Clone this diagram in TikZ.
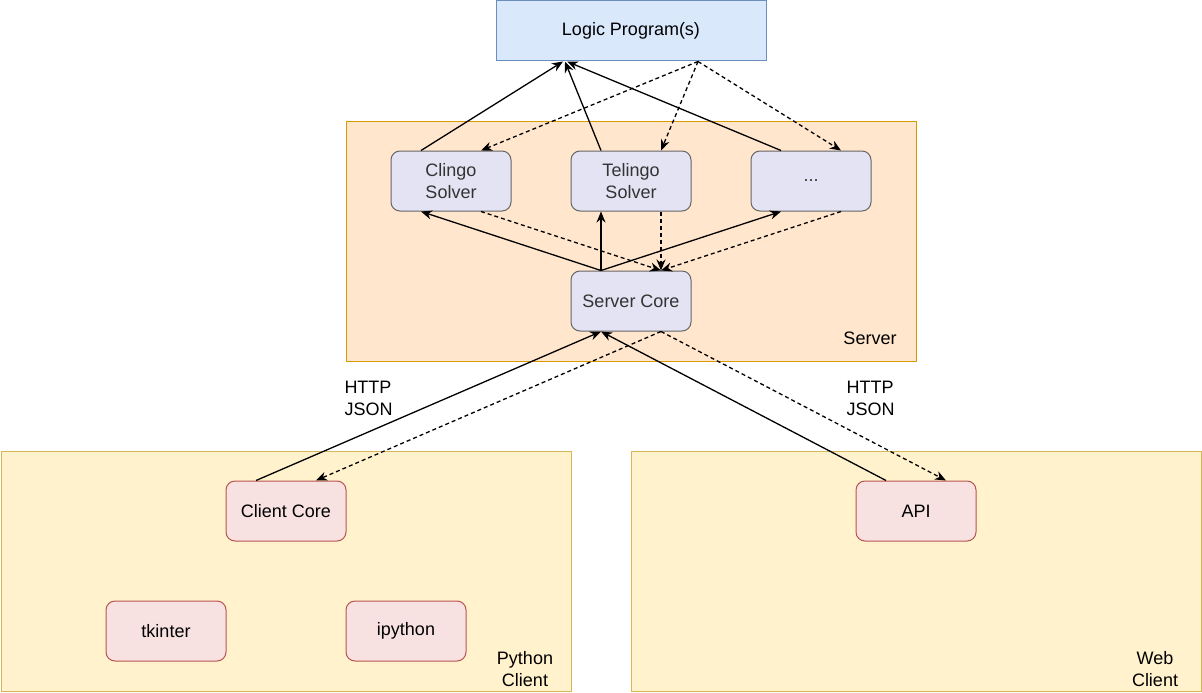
\documentclass[tikz,border=0pt]{standalone}
\usepackage{fontspec}
\setmainfont{Liberation Sans}
\usepackage{tikz}
\usetikzlibrary{positioning,arrows.meta}
\definecolor{lpfill}{HTML}{DAE8FC}
\definecolor{lpdraw}{HTML}{6C8EBF}
\definecolor{srvfill}{HTML}{FFE6CC}
\definecolor{srvdraw}{HTML}{D79B00}
\definecolor{solverfill}{HTML}{E3E3F3}
\definecolor{solverdraw}{HTML}{666666}
\definecolor{solvertext}{HTML}{333333}
\definecolor{cltfill}{HTML}{FFF2CC}
\definecolor{cltdraw}{HTML}{D6B656}
\definecolor{compfill}{HTML}{F8E1E1}
\definecolor{compdraw}{HTML}{B85450}

\begin{document}
\begin{tikzpicture}[x=1pt,y=-1pt,node distance=180pt,on grid,line width=1pt,
    font=\fontsize{18}{22}\selectfont,
    >={Stealth[length=11pt,width=9pt,inset=3.5pt]},
    box/.style={draw,rounded corners=9pt,minimum width=120pt,minimum height=60pt,inner sep=0pt,align=center},
    solver/.style={box,fill=solverfill,draw=solverdraw,text=solvertext},
    comp/.style={box,fill=compfill,draw=compdraw},
    group/.style={draw,inner sep=0pt,minimum width=570pt,minimum height=240pt},
    reply/.style={dash pattern=on 4pt off 3pt}]
    \useasboundingbox (0,0) rectangle (1202,693);
    \node[group,fill=srvfill,draw=srvdraw] (server) at (631,241) {};
    \node[group,fill=cltfill,draw=cltdraw] (pyclient) at (286,571) {};
    \node[group,fill=cltfill,draw=cltdraw] (webclient) at (916,571) {};
    \node[anchor=east,inner sep=0pt] (serverlbl) at (897,338) {Server};
    \node[align=center,inner sep=0pt] (pylbl) at (525,669) {Python\\Client};
    \node[align=center,inner sep=0pt] (weblbl) at (1155,669) {Web\\Client};

    \node[box,rounded corners=0pt,fill=lpfill,draw=lpdraw,minimum width=270pt] (logic) at (631,31) {Logic Program(s)};
    \node[solver] (telingo) at (631,181) {Telingo\\Solver};
    \node[solver] (clingo) [left=of telingo] {Clingo\\Solver};
    \node[solver] (more) [right=of telingo] {...};
    \node[solver] (core) [below=120pt of telingo] {Server Core};
    \node[comp] (clientcore) at (286,511) {Client Core};
    \node[comp] (tkinter) at (166,631) {tkinter};
    \node[comp] (ipython) [right=240pt of tkinter] {ipython};
    \node[comp] (api) at (916,511) {API};
    \node[anchor=west,align=left,inner sep=0pt] (httpl) at (344,398) {HTTP\\JSON};
    \node[anchor=west,align=left,inner sep=0pt] (httpr) at (846,398) {HTTP\\JSON};

    \path[->,line width=1.3pt]
    ([xshift=-30pt]clingo.north) edge ([xshift=-68pt]logic.south)
    ([xshift=-30pt]telingo.north) edge ([xshift=-66pt]logic.south)
    ([xshift=-30pt]more.north) edge ([xshift=-64pt]logic.south)
    ([xshift=-30pt]core.north) edge ([xshift=-30pt]clingo.south)
    ([xshift=-30pt]core.north) edge ([xshift=-30pt]telingo.south)
    ([xshift=-30pt]core.north) edge ([xshift=-30pt]more.south)
    ([xshift=-30pt]clientcore.north) edge ([xshift=-30pt]core.south)
    ([xshift=-30pt]api.north) edge ([xshift=-30pt]core.south)
    ;
    \path[->,reply,line width=1.3pt]
    ([xshift=67pt]logic.south) edge ([xshift=30pt]clingo.north)
    ([xshift=67pt]logic.south) edge ([xshift=30pt]telingo.north)
    ([xshift=67pt]logic.south) edge ([xshift=30pt]more.north)
    ([xshift=30pt]clingo.south) edge ([xshift=30pt]core.north)
    ([xshift=30pt]telingo.south) edge ([xshift=30pt]core.north)
    ([xshift=30pt]more.south) edge ([xshift=30pt]core.north)
    ([xshift=30pt]core.south) edge ([xshift=30pt]clientcore.north)
    ([xshift=30pt]core.south) edge ([xshift=30pt]api.north)
    ;
\end{tikzpicture}
\end{document}
